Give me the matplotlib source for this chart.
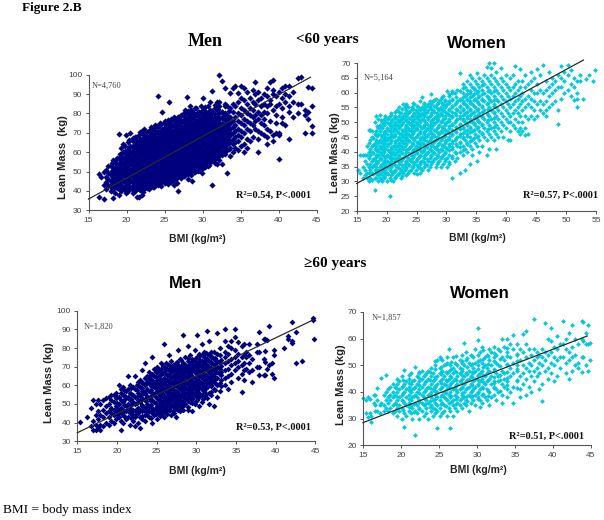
import matplotlib
matplotlib.use("Agg")
import matplotlib.pyplot as plt
import numpy as np

# values: one BMI per column, lean masses in that column
men_young_bmi = [16.4,16.6,17.0,17.3,17.6,17.9,18.2,18.5,18.8,19.0,19.3,19.6,19.9,20.2,20.5,20.8,21.1,21.4,21.7,22.0,22.3,22.6,22.9,23.2,23.5,23.8,24.1,24.4,24.7,25.0,25.3,25.6,25.9,26.2,26.5,26.8,27.1,27.4,27.7,28.0,28.3,28.6,28.9,29.2,29.5,29.8,30.1,30.4,30.7,31.0,31.3,31.6,31.9,32.2,32.5,32.9,33.2,33.6,34.0,34.3,34.7,35.0,35.4,35.8,36.2,36.6,36.9,37.3,37.7,38.1,38.5,38.9,39.3,39.7,40.1,40.5,40.9,41.4,41.9,42.5,43.0,43.5,43.9,44.4]
men_young_lean = [
[37,48.5],[47],[36,43,50],[41,44.5,47,51],[43,46,49,53],[40,42,45,48,53],[36.5,41,44,47,51,56],[39,43,46,49.5,52,55],
[42,45,48,51,54,57],[38,41,44,47,50,53,69.5],[40,43,46,49,52,55,58,62],[42,45,48,51,54,57,60,64],[39,41,44,47,50,53,56,59,69],
[40,43,46,49,52,55,58,61,65],[42,45,48,51,54,57,60,63,70],[39,41,44,47,50,53,56,59,62,66],[40,43,46,49,52,55,58,61,64,68],
[37,42,45,48,51,54,57,60,63,66],[37,41,44,47,50,53,56,59,62,65,69],[38,43,46,49,52,55,58,61,64,67,71],[41,44,47,50,53,56,59,62,65,68,72],
[42,45,48,51,54,57,60,63,66,69],[41,44,47,50,53,56,59,62,65,68,71],[43,46,49,52,55,58,61,64,67,70,73],[42,45,48,51,54,57,60,63,66,69,72],
[44,47,50,53,56,59,62,65,68,71,74],[43,46,49,52,55,58,61,64,67,70,73,88.9],[44,47,50,53,56,59,62,65,68,71,75],[45,48,51,54,57,60,63,66,69,72,80.5],
[44,46,49,52,55,58,61,64,67,70,73,76],[47,50,53,56,59,62,65,68,71,74],[45,48,51,54,57,60,63,66,69,72,75,86],[46,49,52,55,58,61,64,67,70,73,76],
[43,47,50,53,56,59,62,65,68,71,74,77],[46,49,52,55,58,61,64,67,70,73,76],[40,48,51,54,57,60,63,66,69,72,75,78],[47,50,53,56,59,62,65,68,71,74,77],
[49,52,55,58,61,64,67,70,73,76,79],[48,51,54,57,60,63,66,69,72,75,78,82],[50,53,56,59,62,65,68,71,74,77,80,88.3],[49,52,55,58,61,64,67,70,73,76,79,84],
[45,51,54,57,60,63,66,69,72,75,78,81],[50,53,56,59,62,65,68,71,74,77,80],[52,55,58,61,64,67,70,73,76,79,83],[51,54,57,60,63,66,69,72,75,78,81],
[53,56,59,62,65,68,71,74,77,80,84],[52,55,58,61,64,67,70,73,76,79,82,88],[54,57,60,63,66,69,72,75,78,81],[53,56,59,62,65,68,71,74,77,80,84],
[55,58,61,64,67,70,73,76,79,82,86],[43,56,59,62,65,68,71,74,77,80,91.4],[57,60,63,66,69,72,75,78,83],[54,58,61,64,67,70,73,76,79,82,86],
[56,59,62,65,68,71,74,77,80,84,86,99.9],[54,60,63,66,69,72,75,78,81,96.6],[59,62,65,68,71,74,77,80,85,93.3],[49,61,64,67,70,73,76,79,84],
[58,62,66,69,72,75,78,83,90.4],[60,64,67,70,73,76,81,85,93.3],[62,65,68,71,74,78,84,94.2],[61,66,69,72,76,80,86,90.4],[63,68,71,75,79,83,88,94],
[60,64,70,74,77,82,87,93],[62,67,72,76,80,85,91],[66,71,75,79,83,88],[68,74,78,82,86,92],[72,76,79,85,90,96.3],[60,67,71,77,81,87,91],[70,75,79,84,88],
[69,74,77,81,85,90],[64,68,72,80,84,89,93],[71,76,85,87,96.4],[66,69,82,90,92,97.1],[70,75,79,84,89],[56.5,69,70,85,91],[75,78,83,88,93],
[74,86,90,94],[67,81,84,89,94],[78,86,91],[80,85,98.5],[85,98.7],[70,79,82],[77,81,93.8],[70,73.6,84,93]]
men_young_fill_bmi = [18.1,18.7,19.2,19.8,20.3,20.9,21.3,21.8,22.2,22.7,23.1,23.6,24.0,24.5,24.9,25.4,25.8,26.3,26.7,27.2,27.6,28.1,28.5,29.0,29.4,29.9,30.3,30.8,31.2,31.7,32.1,32.6,33.0,33.5]
men_young_fill_lean = [
[43.5,45.6,48.4,50.2,52.7,54.6],[41.3,44.2,46.7,49.3,51.6,53.2,56.4],[42.4,45.1,47.6,49.8,51.3,54.4,56.7,59.2],[40.6,42.7,45.5,48.2,50.6,52.5,54.7,57.3,60.4,63.2],
[41.2,44.6,46.4,48.7,50.8,53.4,55.6,57.9,59.6,62.3,66.4],[40.4,42.6,45.3,47.5,49.6,51.8,54.3,56.6,58.2,60.7,63.4,67.2],[41.5,43.8,46.2,48.4,50.6,52.7,55.2,57.4,59.6,61.8,64.5,67.6],
[40.3,42.7,45.2,47.6,49.4,51.7,53.5,55.8,58.3,60.5,62.6,64.2,66.7,70.4],[39.6,42.2,44.7,46.3,48.5,50.7,52.6,54.8,57.4,59.5,61.7,63.5,65.8,69.5],[41.4,43.6,46.3,48.7,50.4,52.3,54.5,56.6,58.7,60.5,62.6,64.7,67.3,70.2],
[42.6,44.7,47.4,49.3,51.6,53.4,55.5,57.3,59.6,61.4,63.6,65.4,68.2,71.6],[41.8,44.4,46.6,48.5,50.3,52.6,54.7,56.8,58.5,60.6,62.7,64.5,66.4,68.7,72.6],[43.5,45.6,47.7,49.4,51.5,53.6,55.4,57.5,59.4,61.5,63.6,65.7,67.5,70.3,73.7],
[42.6,45.3,48.3,50.5,52.6,54.7,56.6,58.4,60.7,62.4,64.6,66.5,68.4,70.6,74.3],[44.7,46.6,48.4,50.7,52.7,54.6,56.4,58.6,60.4,62.7,64.5,66.7,68.6,71.4,75.3],[43.7,45.8,47.6,49.5,51.6,53.8,55.7,57.5,59.7,61.6,63.5,65.6,67.5,69.7,72.6,76.4],
[44.6,46.7,48.6,50.6,52.7,54.5,56.7,58.5,60.6,62.5,64.6,66.4,68.7,70.5,73.6,77.2],[45.5,47.6,49.5,51.4,53.6,55.5,57.6,59.5,61.6,63.7,65.5,67.4,69.6,71.7,74.5,78.3],[44.3,47.4,49.6,51.7,53.5,55.7,57.5,59.6,61.5,63.4,65.7,67.6,69.4,71.6,74.7,77.5],
[46.6,48.5,50.7,52.6,54.6,56.6,58.7,60.5,62.6,64.5,66.6,68.5,70.6,72.5,75.6,79.4],[47.5,49.7,51.6,53.5,55.6,57.4,59.5,61.7,63.5,65.6,67.7,69.5,71.4,73.6,76.5,80.3],[46.4,48.6,50.5,52.7,54.5,56.7,58.6,60.4,62.7,64.6,66.5,68.6,70.7,72.4,74.7,77.6,81.4],
[48.3,50.6,52.5,54.6,56.5,58.4,60.7,62.5,64.4,66.7,68.4,70.5,72.6,74.5,78.4,81.7],[49.6,51.5,53.7,55.4,57.6,59.5,61.6,63.6,65.5,67.6,69.5,71.6,73.5,75.6,79.3,82.6],[50.5,52.6,54.5,56.6,58.7,60.6,62.5,64.7,66.4,68.6,70.6,72.5,74.6,76.7,80.5],
[49.4,51.6,53.7,55.6,57.5,59.4,61.6,63.5,65.6,67.5,69.7,71.4,73.6,75.5,77.6,81.4],[52.4,54.6,56.5,58.6,60.5,62.6,64.5,66.6,68.5,70.4,72.6,74.5,76.6,79.5,83.2],[53.6,55.5,57.7,59.5,61.6,63.4,65.6,67.6,69.5,71.6,73.5,75.7,78.4,80.6],
[55.4,57.6,59.6,61.4,63.6,65.5,67.4,69.6,71.7,73.4,75.6,77.5,81.5],[54.6,56.7,58.5,60.6,62.5,64.6,66.7,68.5,70.4,72.6,74.5,76.6,79.7,84.3],[57.5,59.6,61.5,63.7,65.4,67.6,69.5,71.6,73.5,75.7,78.3,82.4],
[58.6,60.7,62.6,64.5,66.6,68.4,70.6,72.5,74.6,77.4,80.5],[60.5,63.4,65.6,67.5,69.7,71.5,73.6,76.5,79.4,83.6],[61.6,64.7,66.5,68.6,70.5,72.7,74.4,77.6,81.5]]

women_young_bmi = [15.2,15.6,16.0,16.4,16.7,17.0,17.3,17.6,18.0,18.3,18.6,18.9,19.2,19.5,19.8,20.1,20.5,20.8,21.1,21.4,21.7,22.0,22.4,22.7,23.0,23.3,23.6,24.0,24.3,24.6,24.9,25.2,25.6,25.9,26.2,26.5,26.9,27.2,27.5,27.8,28.2,28.5,28.8,29.1,29.5,29.8,30.1,30.5,31.0,31.4,31.8,32.3,32.7,33.1,33.5,33.9,34.3,34.7,35.1,35.5,35.9,36.3,36.7,37.1,37.5,37.9,38.3,38.7,39.1,39.5,39.9,40.3,40.7,41.1,41.5,41.9,42.3,42.7,43.2,43.7,44.2,44.7,45.2,45.7,46.2,46.7,47.2,47.7,48.2,48.7,49.2,49.7,50.4,50.9,51.4,51.8,52.3,52.9,53.3,53.9,54.5,54.9]
women_young_lean = [
[34],[33,39],[39,31,35],[32,34,37,39],[31,33,36,39,42],[30,33,35,38,40,43,47.5],[31,34,36,39,41,44,47.5],[30.5,33,35,37,40,42,45,47],
[27,31,34,36,38,41,43,46,50],[31,33,35,37,39,42,44,47,52],[30,32,34,37,39,41,43,46,48,51],[31,33,35,38,40,42,44,47,49,52.5],[30,32,34,36,39,41,43,45,48,50],
[31,33,35,37,40,42,44,46,49,51],[32,34,36,38,41,43,45,47,50,52],[30,33,35,37,39,42,44,46,48,51],[25,31,34,36,38,40,43,45,47,49,52],
[32,35,37,39,41,44,46,48,50,53],[30,33,36,38,40,42,45,47,49,51],[31,34,37,39,41,43,46,48,50,52],[32,35,38,40,42,44,47,49,51,54],
[33,36,39,41,43,45,48,50,52,55],[31,34,37,40,42,44,46,49,51,53],[33,35,38,41,43,45,47,50,52,56],[34,36,39,42,44,46,48,51,53,55],
[32,35,37,40,43,45,47,49,52,54,56],[33,36,38,41,44,46,48,50,53,55],[34,37,39,42,45,47,49,51,54],[35,38,40,43,46,48,50,52,55],
[33,36,39,41,44,47,49,51,53,56],[34,37,40,42,45,48,50,52,54],[35,38,41,43,46,49,51,53,55],[33,36,39,42,44,47,50,52,54,57],
[34,37,40,43,45,48,51,53,55,58.5],[35,38,41,44,46,49,52,54,56],[36,39,42,45,47,50,53,55],[34,37,40,43,46,48,51,54,56],
[35,38,41,44,47,49,52,55,57],[36,39,42,45,48,50,53,56,59.5],[37,40,43,46,49,51,54,57],[35,38,41,44,47,50,52,55,58],
[36,39,42,45,48,51,53,56],[37,40,43,46,49,52,54,57],[35,38,41,44,47,50,53,55,58],[36,39,42,45,48,51,54,56,59],[37,40,43,46,49,52,55,57],
[35,38,41,44,47,50,53,56,60.5],[36,39,42,45,48,51,54,57,59],[31,38,41,43,46,49,52,55,58,60],[37,40,44,47,50,53,56,60],[38,42,45,48,51,54,57,61],
[33,40,43,46,49,52,55,58,66.6],[39,42,45,48,51,54,57,60,63],[34,41,44,47,50,53,56,59,62],[40,43,46,49,52,55,58,61,64],[36,42,45,48,51,54,57,60,63,66],
[39,41,44,47,50,53,56,59,62,65],[43,46,49,52,55,58,61,64],[37,42,45,48,51,54,57,60,63,66.5],[40,44,47,50,53,56,59,62,65],[42,46,49,52,55,58,61,64],
[45,48,51,54,57,60,63,66],[39,44,47,50,53,56,59,62,65,68.5],[41,46,49,52,55,58,61,64,70],[45,48,51,54,57,60,63,66,68.4],[44,47,50,53,56,59,62,65,70.1],
[41,46,49,52,55,58,61,64,67],[45,48,51,54,57,60,63],[47,50,53,56,59,62,65,68.4],[45,49,52,55,58,61,64],[48,51,54,57,60,63,66],[44,50,53,56,59,62],
[44,47,50,52,55,58,61,65],[49,53,56,59,62,66],[48,51,54,57,60,63,68.9],[47,50,53,55,58,61,64],[46,48,52,56,59,62,68],[47,50,54,57,60,64],
[45.7,48,52,55,58,62,66],[46,51,56,59,63],[52,55,58,61,64,67],[51,54,57,60,65],[52,56,60,63,68],[54,57,61,66],[53,56,60,69.3],[52,54,57,61,64],[55,59,62,67],
[56,60,63,65],[57,61,64],[49.3,54,62,66],[58,62,65,69],[60,64,67],[61,66,69.3],[59,63,67.6],[57.5,62,65],[55,57.7,60,64],[64,66],[57.9],[64.5],[66],[63.9],[67.6]]
women_young_fill_bmi = [17.8,18.4,19.0,19.6,20.2,20.8,21.4,22.0,22.6,23.2,23.8,24.4,25.0,25.6,26.2,26.8,27.4,28.0,28.6,29.2,29.8,30.4,31.0,31.6,32.2,32.8,33.4,34.0,34.6,35.2,36.0,37.0,38.0]
women_young_fill_lean = [
[32.4,35.2,37.5,39.7,42.4,44.6],[33.6,36.3,38.6,40.4,43.5,45.3,48.6],[30.4,32.7,35.5,37.4,39.6,41.5,43.7,45.8,48.5,50.7],[31.6,33.4,36.4,38.5,40.6,42.8,44.6,46.7,49.4],
[32.5,34.7,36.6,38.7,40.5,42.6,44.5,47.3,49.6,51.5],[30.6,33.4,35.6,37.7,39.5,41.6,43.7,45.6,48.4,50.7,52.6],[31.5,33.6,35.7,37.6,39.4,41.8,43.5,45.5,47.6,49.4,51.6,53.4],[32.4,34.6,36.5,38.4,40.5,42.4,44.6,46.5,48.6,50.5,53.4],
[31.7,33.4,35.6,37.5,39.6,41.5,43.6,45.6,47.5,49.4,51.5,54.6],[34.5,36.4,38.6,40.5,42.6,44.5,46.4,48.6,50.6,52.5,55.4],[33.6,35.5,37.6,39.5,41.4,43.5,45.6,47.5,49.6,51.4,53.6],[34.7,36.6,38.4,40.6,42.5,44.6,46.5,48.4,50.5,52.6,54.4,56.5],
[32.6,35.4,37.5,39.6,41.5,43.4,45.5,47.6,49.5,51.6,53.5,55.6],[34.4,36.5,38.6,40.5,42.6,44.7,46.4,48.6,50.5,52.5,54.6],[36.6,38.5,40.4,42.5,44.6,46.6,48.5,50.6,52.4,54.5,56.5],[35.4,37.6,39.5,41.6,43.5,45.4,47.6,49.5,51.6,53.5,55.6],
[36.5,38.6,40.6,42.4,44.5,46.5,48.6,50.5,52.6,54.4,56.6],[37.4,39.6,41.5,43.6,45.5,47.4,49.6,51.5,53.6,55.5,57.6],[36.6,38.5,40.6,42.5,44.6,46.5,48.5,50.6,52.5,54.6,56.5],[38.6,40.5,42.4,44.5,46.6,48.4,50.5,52.6,54.5,56.6,58.5],
[37.5,39.6,41.5,43.6,45.5,47.5,49.6,51.5,53.4,55.6,57.5],[36.5,40.6,42.5,44.4,46.5,48.6,50.5,52.4,54.6,56.5,59.6],[38.6,41.5,43.5,45.6,47.5,49.4,51.6,53.5,55.5,57.6,60.4],[39.5,42.6,44.5,46.6,48.5,50.6,52.5,54.4,56.6,58.5],
[41.6,43.4,45.5,47.6,49.5,51.5,53.6,55.5,57.4,60.6],[40.5,44.6,46.5,48.4,50.6,52.5,54.6,56.5,58.6,61.5],[42.6,45.5,47.5,49.6,51.5,53.4,55.6,57.5,59.5],[43.5,46.6,48.5,50.5,52.6,54.5,56.5,58.6,60.5],
[44.6,47.5,49.6,51.5,53.5,55.6,57.5,59.4,61.6],[45.5,48.4,50.5,52.6,54.6,56.5,58.5,60.6],[46.5,49.5,51.6,53.5,55.4,57.6,59.6,62.5],[47.6,50.6,52.5,54.6,56.5,58.4,60.5],[48.5,51.5,53.6,55.5,57.6,60.6]]

men_old_bmi = [15.3,16.2,16.7,17.0,17.3,17.6,17.9,18.2,18.6,19.0,19.3,19.6,19.9,20.2,20.5,20.8,21.1,21.4,21.7,22.0,22.3,22.6,22.9,23.2,23.5,23.8,24.1,24.4,24.7,25.0,25.3,25.6,25.9,26.2,26.5,26.8,27.1,27.4,27.7,28.0,28.3,28.6,28.9,29.2,29.5,29.8,30.1,30.4,30.7,31.0,31.3,31.6,31.9,32.2,32.6,33.0,33.6,34.0,34.4,34.9,35.3,35.7,36.0,36.3,36.7,37.0,37.6,37.9,38.5,38.7,38.9,39.2,39.5,39.8,41.1,41.6,42.1,42.6,43.3,44.7,44.8]
men_old_lean = [
[40.5],[43],[38,48],[36,41,52],[36,39,44,50],[37,42,46,52],[36,39,44,50],[38,43,47,52],[40,45,49,53],[39,43,46,50,54],[41,45,48,52,55],[40,44,47,51,55],
[42,46,49,53,56],[43,47,50,54,60],[36,41,45,48,52,56,58],[40,44,47,51,55,59],[42,46,49,53,57],[43,47,50,54,58,65],[39,45,48,52,56,60],[41,44,47,51,55,59],[38,43,46,50,54,58,65],
[40,45,48,52,56,60,62],[37,43,47,51,55,59,63],[42,46,49,53,57,61,68],[41,44,48,52,56,60,64,72],[44,47,50,54,58,62,65],[43,46,49,53,57,61,64,67],[40,45,48,52,56,60,63,66,75],[44,47,51,55,59,62,65,69],
[42,46,49,53,57,60,63,67,70],[45,48,52,56,59,62,65,68],[44,47,50,54,57,60,63,66,69,72],[43,46,49,52,55,58,61,64,67,70,82],[45,48,51,54,57,60,63,66,69,72],[47,50,53,56,59,62,65,68,71,76],
[44,49,52,55,58,61,64,67,70,73],[46,50,53,56,59,62,65,68,71],[43,48,51,54,57,60,63,66,69,72],[47,50,53,56,59,62,65,68,71,79],[46,49,52,55,58,61,64,67,70,74],[47,51,54,57,60,63,66,69,72,87],
[50,53,56,59,62,65,68,71,75],[47,52,55,58,61,64,67,70,73,81],[51,54,57,60,63,66,69,72,76],[46,53,56,59,62,65,68,71,74],[50,55,58,61,64,67,70,73,79],[52,54,57,60,63,66,69,72,75,87],[49,56,59,62,65,68,71,74,77],
[51,55,58,61,64,67,70,73,76,82],[54,57,60,63,66,69,72,75,78],[53,59,62,65,68,71,74,77,89],[50,56,61,64,67,70,73,76,84],[55,60,63,66,69,72,75,78],[49,58,62,65,68,71,74,78],[54,60,64,67,70,73,77,88],
[57,61,66,69,72,76,80],[60,64,68,72,75,78,84,90],[58,65,69,73,77,81],[62,66,71,74,80,84],[68,72,75,79,86,90],[64,70,73,77,83],[56.6,66,71,75,81],[63,68,72,76,82],[69,75,78],[67,72,76,82],[62,68,74],[70,78,82],
[65.5,70,77.8,88.8],[65.5,74,85],[72.7,65.5,78.4,85],[68.6,84.3],[71,91.6],[71.8,66],[64.1,76,79],[79.8],[85,86.4],[82.9,84,93.9],[72.1,88.4],[73],[95,95.9],[84.7]]
men_old_fill_bmi = [20.0,20.9,21.8,22.5,23.1,23.7,24.3,24.9,25.4,25.8,26.3,26.7,27.2,27.6,28.1,28.5,29.0,29.4,29.9,30.3,30.8,31.2,31.8,32.4,33.1]
men_old_fill_lean = [
[44.5,47.6,50.5,53.6],[43.6,46.5,49.7,52.4,54.6,57.4],[42.6,46.4,49.5,52.6,55.4,58.6],[44.6,47.5,50.6,53.5,57.4,60.4],[43.5,46.6,49.4,52.6,55.5,58.4,61.6],[45.6,48.5,51.4,54.6,57.5,60.6,63.4],
[42.5,46.4,49.6,51.5,54.5,57.6,59.5,62.4,65.6],[44.4,47.6,50.5,53.6,56.4,58.6,61.5,64.5,67.4],[43.6,46.5,49.4,51.6,54.6,57.5,60.4,62.6,65.5,68.4],[45.5,48.6,50.6,53.5,55.6,58.4,61.6,63.5,66.6,70.5],
[44.6,47.5,49.6,52.4,54.5,57.6,59.5,62.6,65.4,68.6,71.4],[46.6,48.5,51.5,53.4,56.6,58.5,60.6,63.5,66.4,69.5],[45.4,48.4,50.6,52.6,55.5,57.4,60.5,62.4,64.6,67.5,70.6],[47.4,49.5,51.6,54.5,56.6,59.4,61.5,63.6,66.5,68.6,72.5],
[48.6,50.4,53.5,55.4,58.5,60.6,62.5,65.4,67.6,70.5,73.4],[49.5,52.4,54.6,57.5,59.6,61.4,64.5,66.6,69.5,71.6],[48.4,51.5,53.6,56.4,58.6,60.5,63.4,65.6,68.5,70.6,74.5],[50.6,52.5,55.6,57.4,60.4,62.5,64.6,67.5,69.6,72.4],
[51.4,54.5,56.6,59.5,61.6,63.5,66.4,68.6,71.5,74.4],[53.6,55.5,58.4,60.6,62.4,65.5,67.4,70.6,72.5,75.6],[52.5,54.6,57.6,59.4,61.5,64.6,66.5,69.4,71.6,76.4],[55.6,58.5,60.5,63.6,65.6,68.5,70.4,73.6,77.5],
[56.5,59.6,62.5,64.4,67.6,69.5,72.4,75.5],[57.6,61.4,63.5,66.4,68.6,71.5,74.4],[59.5,62.6,65.5,67.4,70.6,73.5]]

women_old_bmi = [15.0,15.4,15.7,15.9,16.1,16.4,16.6,16.9,17.2,17.4,17.7,18.0,18.3,18.6,18.9,19.2,19.5,19.8,20.1,20.4,20.7,21.0,21.3,21.5,21.8,22.1,22.4,22.7,23.0,23.3,23.6,23.9,24.2,24.5,24.8,25.1,25.4,25.7,26.0,26.3,26.5,26.8,27.1,27.4,27.7,28.0,28.3,28.6,28.9,29.2,29.5,29.8,30.1,30.4,30.7,31.0,31.3,31.6,31.9,32.2,32.5,32.8,33.3,33.6,34.0,34.4,34.8,35.2,35.6,36.0,36.4,36.8,37.1,37.5,37.9,38.2,38.6,38.9,39.3,39.7,40.1,40.5,40.9,41.3,41.7,42.1,42.5,42.9,43.3,43.8,44.0,44.3,44.6,44.9]
women_old_lean = [
[37.9],[32,37],[30.8,38.3],[32,37.5],[28.9,31],[36,39],[38.9,35,33],[41.4,33,37],[32,35],[45.1,36],[33,35,39],[46.4,34,37,40],[33,36,38,41],[34,37,39,42],[32,35,38,40,43],[33,36,39,42],[31,34,37,40,43,45],
[33,35,38,41,44],[30,34,37,39,42,46],[26.8,32,36,40,43,48.3],[31,35,38,41,44],[33,36,39,42,45],[32,35,37,40,43,47],[30,34,38,41,44],[23.9,33,36,39,42,49.3],[32,35,38,40,43,46],[30,34,37,41,44,47],[33,36,39,42,45,48],[31,35,38,40,43,46],[32,34,37,41,44,47],[30,36,39,42,45,48],[33,35,38,40,43,46,49],[31,34,37,41,44,47],[32,36,39,42,45,50],[26.4,33,35,38,40,43,46,52],[31,34,37,41,44,47,49,53],[32,36,39,42,45,48,52],[33,35,38,40,43,46,50],[31,37,41,44,47,51,53],[34,36,39,42,45,48,56],[26.4,33,38,40,43,46,50],[31,35,37,41,44,47,49,53],[34,39,42,45,48,51],[33,36,38,40,43,46,50],[35,37,41,44,47,49,52],[34,39,42,45,48,51,54],[36,38,40,43,46,50,58.3],[35,37,41,44,47,52,55],[33,39,42,45,48,51],[36,38,40,43,46,50,54],[37,41,44,47,49,53],[35,39,42,45,48,51,56],[38,40,43,46,50,54,59.5,64.1],[34.5,37,41,44,47,52,55],[36,39,42,45,48,51,57],[38,43,46,50,53],[37,41,44,47,49,54],[35,40,45,48,52,56],[38,43,46,50,55],[39,42,44,48,53,57],[37,41,47,51,54],[40,44,46,50,56],[36,39,43,48,53,60],[42,45,47,52,57],[38,41,44,50,55,59.8],[40,46,49,53,58],[36,42,47,51,56,61.4],[44,48,50,54,58],[38,41,46,52,56],[43,47,50,55,61.8],[39,45,49,53,58,63],[42,48,51,56],[40,46,50,54],[44,48,52,56,67.4],[46,49,53,55],[41,47,51,54],[36.6,43,50,53,56],[48,52,55,65.8],[45,49,54,60],[47,51,55,64.1,59],[44,50,53,57],[46,52,56,61],[53,49,58],[53,58,66.8],[47,51,56,60],[45,52,55,62],[48,53,57,65.1],[50,54,60],[49,51,58],[47.5,53,60,66.6],[53,59,66.4],[50,62,58],[47.9,58,65],[52,58.5]]
women_old_fill_bmi = [19.4,20.2,21.0,21.7,22.4,23.1,23.8,24.5,25.2,25.9,26.6,27.3,28.0,28.7,29.4,30.1,30.8,31.5,32.2,33.0,34.0,35.2]
women_old_fill_lean = [
[35.5,38.4,41.6],[33.4,36.6,39.5,42.4,44.6],[34.5,37.4,40.6,43.5,46.4],[32.6,35.5,38.6,41.4,44.5],[33.5,36.4,39.5,42.6,45.4,47.5],[35.6,37.5,40.4,43.6,46.5],[34.4,36.6,39.4,41.5,44.4,47.6],[33.6,37.4,40.5,42.4,45.6,48.5,51.6],
[35.5,38.6,41.4,43.5,46.6,49.4,52.5],[34.6,37.5,39.6,42.5,44.6,47.4,50.6],[36.4,38.5,41.5,43.4,45.5,48.6,51.4],[35.6,37.4,40.6,42.6,44.4,47.5,50.4,53.6],[37.6,39.5,41.6,43.5,46.4,48.5,51.5],[36.5,38.6,41.4,44.5,46.6,49.4,52.6],
[38.4,40.5,42.5,45.6,47.4,50.5,53.5],[37.5,39.6,42.6,44.4,46.5,48.6,51.6],[39.4,41.5,43.6,46.4,49.5,52.4,55.6],[38.6,40.4,44.5,47.6,50.4,53.6],[41.6,43.5,45.6,48.5,51.5,54.5],[40.5,44.6,46.4,49.6,52.5,55.4],[42.5,45.4,47.6,50.4,53.5,56.6],[41.4,44.5,48.6,51.6,54.4]]

plt.rcParams["font.family"] = ["Liberation Sans", "DejaVu Sans"]

W, H = 604, 520
fig = plt.figure(figsize=(W / 100, H / 100), dpi=100)


def put(px, py, s, **kw):
    fig.text(px / W, 1 - py / H, s, va="center", **kw)


def panel(left, right, top, bottom, xlim, ylim, xticks, yticks, bmi, lean, line, color, size):
    ax = fig.add_axes([left / W, 1 - bottom / H, (right - left) / W, (bottom - top) / H])
    xs = np.concatenate([np.full(len(c), b) for b, c in zip(bmi, lean, strict=True)])
    ys = np.concatenate([np.array(c, dtype=float) for c in lean])
    ax.scatter(xs, ys, s=size, marker="D", color=color, linewidths=0, clip_on=False, zorder=2)
    ax.plot(line[0], line[1], color="#2a2a2a", lw=0.9, zorder=3, clip_on=False)
    ax.set_xlim(xlim)
    ax.set_ylim(ylim)
    ax.set_xticks(xticks)
    ax.set_yticks(yticks)
    ax.spines["top"].set_visible(False)
    ax.spines["right"].set_visible(False)
    ax.spines["left"].set_color("#555555")
    ax.spines["bottom"].set_color("#555555")
    ax.tick_params(labelsize=6, labelcolor="#444444", color="#555555", length=2.5, width=0.7, pad=2)
    ax.patch.set_alpha(0)
    return ax


navy = "#00007f"
cyan = "#00cbde"
panel(88.5, 316.5, 74.7, 210.3, (15, 45), (30, 100), range(15, 50, 5), range(30, 110, 10),
      men_young_bmi + men_young_fill_bmi, men_young_lean + men_young_fill_lean, ([15, 44.2], [35.8, 98.7]), navy, 10)
panel(356.7, 596, 63, 211, (15, 55), (20, 70), range(15, 60, 5), range(20, 75, 5),
      women_young_bmi + women_young_fill_bmi, women_young_lean + women_young_fill_lean, ([15, 52.9], [29.3, 71]), cyan, 6)
panel(77.3, 315.3, 310.7, 441.3, (15, 45), (30, 100), range(15, 50, 5), range(30, 110, 10),
      men_old_bmi + men_old_fill_bmi, men_old_lean + men_old_fill_lean, ([15, 44.7], [34.6, 95]), navy, 9)
panel(363, 591, 312, 445.3, (15, 45), (20, 70), range(15, 50, 5), range(20, 80, 10),
      women_old_bmi + women_old_fill_bmi, women_old_lean + women_old_fill_lean, ([15, 44.5], [28.5, 61]), cyan, 6)

serif = ["Liberation Serif", "DejaVu Serif"]
put(22, 8, "Figure 2.B", family=serif, weight="bold", size=9.5)
put(205, 42, "Men", ha="center", family=serif, weight="bold", size=13)
put(296, 40, "<60 years", family=serif, weight="bold", size=11)
put(477, 43, "Women", ha="center", weight="bold", size=12)
put(304, 264, "≥60 years", family=serif, weight="bold", size=11)
put(185, 283, "Men", ha="center", weight="bold", size=12)
put(480, 293, "Women", ha="center", weight="bold", size=12)
put(3, 510, "BMI = body mass index", family=serif, size=9.5)

for px, py in [(197, 239), (477, 238), (197, 471), (478, 470)]:
    put(px, py, "BMI (kg/m²)", ha="center", weight="bold", size=7.5, color="#222222")
for px, py, s in [(63, 157, "Lean Mass  (kg)"), (335, 153, "Lean Mass (kg)"),
                  (49, 383, "Lean Mass (kg)"), (341, 385, "Lean Mass (kg)")]:
    put(px, py, s, ha="center", rotation=90, weight="bold", size=8, color="#222222")
for px, py, s in [(92, 86, "N=4,760"), (364, 78, "N=5,164"), (84, 327, "N=1,820"), (372, 318, "N=1,857")]:
    put(px, py, s, family=serif, size=6, color="#444444")
for px, py, s in [(236, 195, "R²=0.54, P<.0001"), (523, 195, "R²=0.57, P<.0001"),
                  (236, 427, "R²=0.53, P<.0001"), (509, 436, "R²=0.51, P<.0001")]:
    put(px, py, s, family=serif, weight="bold", size=7.5, color="#111111")

fig.savefig("out.png", dpi=100)
